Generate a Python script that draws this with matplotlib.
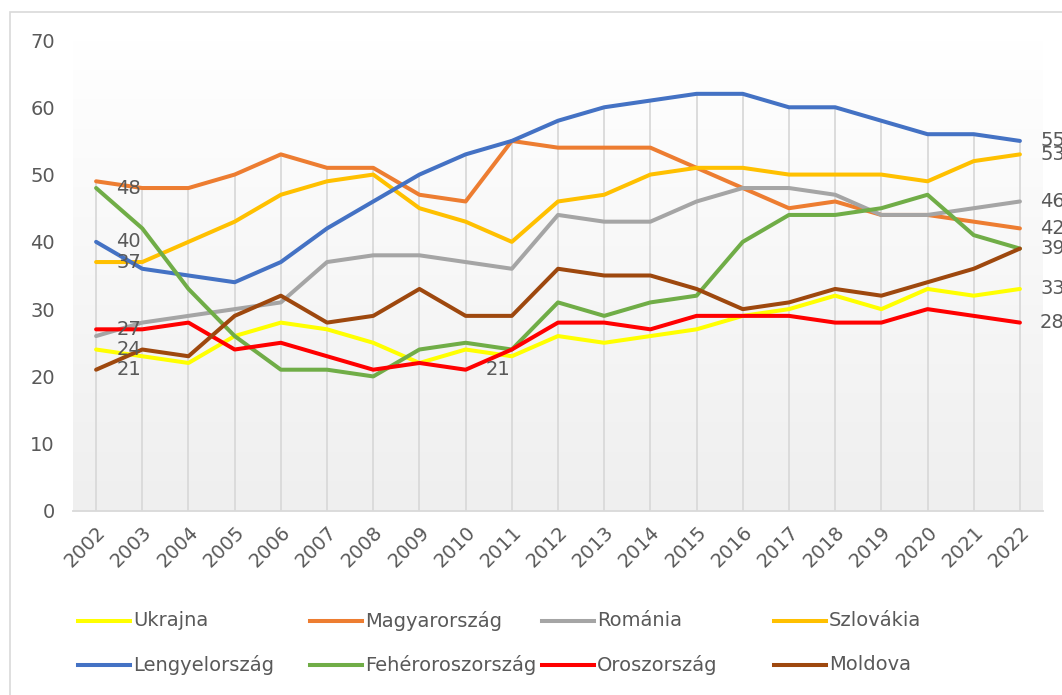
import numpy as np
import matplotlib.pyplot as plt
from matplotlib.lines import Line2D
from matplotlib.patches import Rectangle

plt.rcParams['font.family'] = ['DejaVu Sans']

years = list(range(2002, 2023))

ukrajna = [24, 23, 22, 26, 28, 27, 25, 22, 24, 23, 26, 25, 26, 27, 29, 30, 32, 30, 33, 32, 33]
magyar = [49, 48, 48, 50, 53, 51, 51, 47, 46, 55, 54, 54, 54, 51, 48, 45, 46, 44, 44, 43, 42]
romania = [26, 28, 29, 30, 31, 37, 38, 38, 37, 36, 44, 43, 43, 46, 48, 48, 47, 44, 44, 45, 46]
szlovakia = [37, 37, 40, 43, 47, 49, 50, 45, 43, 40, 46, 47, 50, 51, 51, 50, 50, 50, 49, 52, 53]
lengyel = [40, 36, 35, 34, 37, 42, 46, 50, 53, 55, 58, 60, 61, 62, 62, 60, 60, 58, 56, 56, 55]
feher = [48, 42, 33, 26, 21, 21, 20, 24, 25, 24, 31, 29, 31, 32, 40, 44, 44, 45, 47, 41, 39]
orosz = [27, 27, 28, 24, 25, 23, 21, 22, 21, 24, 28, 28, 27, 29, 29, 29, 28, 28, 30, 29, 28]
moldova = [21, 24, 23, 29, 32, 28, 29, 33, 29, 29, 36, 35, 35, 33, 30, 31, 33, 32, 34, 36, 39]

names = ['Ukrajna', 'Magyarország', 'Románia', 'Szlovákia',
         'Lengyelország', 'Fehéroroszország', 'Oroszország', 'Moldova']
series = [ukrajna, magyar, romania, szlovakia, lengyel, feher, orosz, moldova]
colors = ['#FFFF00', '#ED7D31', '#A5A5A5', '#FFC000',
          '#4472C4', '#70AD47', '#FF0000', '#9E480E']

# which points carry a value label (series index, year index)
labelled = [(5, 0), (4, 0), (3, 0), (6, 0), (0, 0), (7, 0), (6, 8),
            (4, 20), (3, 20), (2, 20), (1, 20), (7, 20), (0, 20), (6, 20)]

W, H = 1062, 695
txt = '#595959'
fs = 14

fig = plt.figure(figsize=(W / 100, H / 100), dpi=100)
ax = fig.add_axes([73 / W, 1 - 511 / H, (1043 - 73) / W, (511 - 40) / H])

# chart border
fig.add_artist(Rectangle((10 / W, -0.01), 1.0, 1 - 12 / H + 0.01, transform=fig.transFigure,
                         fill=False, edgecolor='#d9d9d9', lw=1.2))

# gradient plot area
grad = np.linspace(1, 0, 256).reshape(-1, 1)
ax.imshow(grad, extent=[0, 1, 0, 1], transform=ax.transAxes, aspect='auto',
          cmap=plt.matplotlib.colors.LinearSegmentedColormap.from_list('g', ['#efefef', '#ffffff']),
          zorder=0)

x = np.arange(len(years))
# drop lines
tops = np.max(np.array(series), axis=0)
ax.vlines(x, 0, tops, color='#d9d9d9', lw=1.3, zorder=1)

for s, c in zip(series, colors):
    ax.plot(x, s, color=c, lw=2.9, zorder=3, solid_capstyle='round', solid_joinstyle='round')

for si, yi in labelled:
    ax.annotate(str(series[si][yi]), (x[yi], series[si][yi]), xytext=(14.5, 0),
                textcoords='offset points', ha='left', va='center',
                fontsize=fs, color=txt, annotation_clip=False, zorder=4)

ax.set_xlim(-0.5, len(years) - 0.5)
ax.set_ylim(0, 70)
ax.set_yticks(range(0, 71, 10))
ax.set_xticks(x)
ax.set_xticklabels([str(y) for y in years], rotation=45, ha='right', rotation_mode='anchor')
ax.tick_params(axis='y', length=0, pad=13, labelsize=fs, labelcolor=txt)
ax.tick_params(axis='x', length=0, pad=8, labelsize=fs, labelcolor=txt)
for side in ['top', 'right', 'left']:
    ax.spines[side].set_visible(False)
ax.spines['bottom'].set_color('#d9d9d9')
ax.spines['bottom'].set_linewidth(1.3)

# legend, 2 rows x 4 columns
for k, (n, c) in enumerate(zip(names, colors)):
    row, col = divmod(k, 4)
    x0 = 78 + 232 * col
    yy = 1 - (621 + 44 * row) / H
    fig.add_artist(Line2D([x0 / W, (x0 + 52) / W], [yy, yy], color=c, lw=2.9,
                          transform=fig.transFigure))
    fig.text((x0 + 55) / W, yy, n, ha='left', va='center', fontsize=fs, color=txt)

fig.savefig('out.png', dpi=100)
